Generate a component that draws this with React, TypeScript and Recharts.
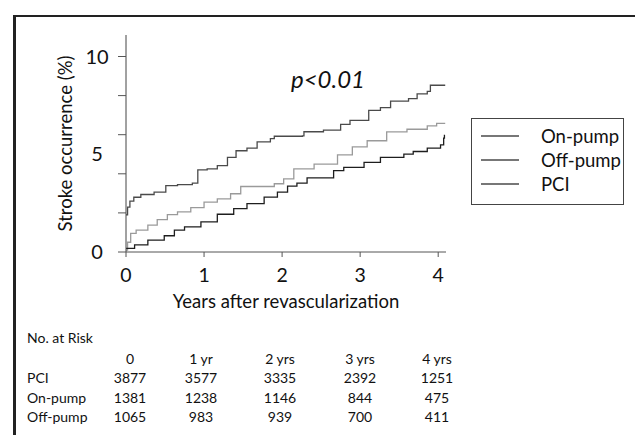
import React from 'react';
import { LineChart, Line, XAxis, YAxis, Legend } from 'recharts';

// Cumulative stroke occurrence (%)
const onPumpYears = [0, 0.02, 0.05, 0.1, 0.19, 0.36, 0.51, 0.66, 0.85, 0.92, 1.04, 1.17, 1.3, 1.41, 1.55, 1.68, 1.85, 1.9, 2.26, 2.28, 2.53, 2.75, 2.87, 3.11, 3.26, 3.39, 3.62, 3.73, 3.86, 3.9, 4.09];
const onPumpPct = [1.9, 2.3, 2.6, 2.8, 2.94, 3.06, 3.4, 3.45, 3.52, 4.2, 4.25, 4.42, 4.84, 5.18, 5.31, 5.63, 5.8, 5.92, 5.94, 6.15, 6.23, 6.53, 6.73, 7.24, 7.38, 7.72, 7.85, 8.09, 8.22, 8.53, 8.53];

const offPumpYears = [0, 0.02, 0.06, 0.13, 0.28, 0.4, 0.53, 0.66, 0.83, 1.0, 1.17, 1.34, 1.47, 1.9, 2.02, 2.15, 2.41, 2.71, 2.9, 3.09, 3.34, 3.6, 3.86, 3.98, 4.09];
const offPumpPct = [0.1, 0.5, 0.95, 1.12, 1.37, 1.66, 1.91, 2.05, 2.27, 2.55, 2.72, 2.98, 3.35, 3.49, 3.74, 4.25, 4.5, 4.97, 5.38, 5.69, 6.14, 6.28, 6.45, 6.58, 6.58];

const pciYears = [0, 0.11, 0.28, 0.49, 0.62, 0.75, 0.96, 1.17, 1.38, 1.55, 1.77, 1.94, 2.07, 2.19, 2.32, 2.66, 2.79, 3.05, 3.26, 3.56, 3.68, 3.86, 4.03, 4.07, 4.08];
const pciPct = [0.19, 0.36, 0.61, 0.83, 1.12, 1.29, 1.54, 1.93, 2.22, 2.47, 2.81, 3.06, 3.37, 3.52, 3.79, 4.16, 4.33, 4.58, 4.84, 5.01, 5.14, 5.31, 5.48, 5.82, 6.0];

const seriesNames = ['On-pump', 'Off-pump', 'PCI'];
const xTicks = [0, 1, 2, 3, 4];
const yTicks = [0, 2, 4, 5, 6, 8, 10];
const yLabelled = [0, 5, 10];

// number at risk table
const riskHeaders = ['0', '1 yr', '2 yrs', '3 yrs', '4 yrs'];
const riskGroups = ['PCI', 'On-pump', 'Off-pump'];
const riskPCI = [3877, 3577, 3335, 2392, 1251];
const riskOnPump = [1381, 1238, 1146, 844, 475];
const riskOffPump = [1065, 983, 939, 700, 411];

const toPoints = (years: number[], pct: number[]) => years.map((t, i) => ({ t, v: pct[i] }));

const FONT = 'Lato, "Open Sans", sans-serif';

const YTick = (props: any) => {
  const { x, y, payload } = props;
  const v = payload.value;
  return (
    <g>
      {v % 2 === 0 && <line x1={x + 6} x2={x + 14} y1={y} y2={y} stroke="#555" strokeWidth={1} />}
      {yLabelled.includes(v) && (
        <text x={97} y={y} dy={7} textAnchor="middle" fontSize={20} fill="#111" fontFamily={FONT}>
          {v}
        </text>
      )}
    </g>
  );
};

const LegendBox = (props: any) => {
  const items = [...(props.payload || [])].sort(
    (a: any, b: any) => seriesNames.indexOf(a.value) - seriesNames.indexOf(b.value)
  );
  return (
    <div
      style={{
        width: 153,
        height: 87,
        border: '1px solid #444',
        background: '#fff',
        boxSizing: 'border-box',
        paddingTop: 5,
        fontFamily: FONT,
      }}
    >
      {items.map((p: any) => (
        <div key={p.value} style={{ display: 'flex', alignItems: 'center', height: 24 }}>
          <div style={{ marginLeft: 9, width: 38, borderTop: '2px solid #777' }} />
          <span style={{ marginLeft: 22, fontSize: 18.5, color: '#111' }}>{p.value}</span>
        </div>
      ))}
    </div>
  );
};

const riskRows = [riskPCI, riskOnPump, riskOffPump];
const colCenters = [130, 201, 280, 360, 437];

export default function App() {
  return (
    <div style={{ position: 'absolute', left: 0, top: 0, width: 635, height: 435, background: '#fff', fontFamily: FONT }}>
      {/* outer frame */}
      <div style={{ position: 'absolute', left: 13, top: 15, width: 3, height: 420, background: '#222' }} />
      <div style={{ position: 'absolute', left: 13, top: 15, width: 622, height: 2, background: '#222' }} />

      <LineChart
        width={635}
        height={435}
        margin={{ top: 35, right: 189, bottom: 123, left: 0 }}
        style={{ position: 'absolute', left: 0, top: 0 }}
      >
        <XAxis
          type="number"
          dataKey="t"
          domain={[0, 4.1]}
          ticks={xTicks}
          allowDataOverflow
          tickSize={5}
          tickMargin={11}
          stroke="#555"
          tick={{ fontSize: 19.5, fill: '#111', fontFamily: FONT }}
          height={60}
          label={{ value: 'Years after revascularization', position: 'insideBottom', offset: 4, fontSize: 18.5, fill: '#111', fontFamily: FONT }}
        />
        <XAxis xAxisId="top" type="number" orientation="top" domain={[0, 4.1]} tick={false} tickLine={false} stroke="#888" height={0} />
        <YAxis
          type="number"
          domain={[0, 11.1]}
          ticks={yTicks}
          interval={0}
          allowDataOverflow
          tickLine={false}
          tickSize={8}
          tickMargin={6}
          tick={<YTick />}
          stroke="#444"
          width={126}
          label={{ value: 'Stroke occurrence (%)', angle: -90, position: 'insideLeft', offset: 65, fontSize: 18.5, fill: '#111', fontFamily: FONT, style: { textAnchor: 'middle' } }}
        />
        <YAxis yAxisId="right" orientation="right" domain={[0, 11.1]} tick={false} tickLine={false} stroke="#888" width={0} />
        <Legend
          content={<LegendBox />}
          layout="horizontal"
          verticalAlign="middle"
          align="center"
          wrapperStyle={{ position: 'absolute', left: 471, top: 118, width: 153, height: 87 }}
        />
        <Line data={toPoints(onPumpYears, onPumpPct)} dataKey="v" name="On-pump" type="stepAfter" stroke="#4a4a4a" strokeWidth={1.3} dot={false} isAnimationActive={false} />
        <Line data={toPoints(offPumpYears, offPumpPct)} dataKey="v" name="Off-pump" type="stepAfter" stroke="#9a9a9a" strokeWidth={1.3} dot={false} isAnimationActive={false} />
        <Line data={toPoints(pciYears, pciPct)} dataKey="v" name="PCI" type="stepAfter" stroke="#1e1e1e" strokeWidth={1.3} dot={false} isAnimationActive={false} />
      </LineChart>

      <div style={{ position: 'absolute', left: 328, top: 91, transform: 'translate(-50%, -100%)', fontSize: 24, fontStyle: 'italic', color: '#111', lineHeight: 1 }}>
        p&lt;0.01
      </div>

      {/* No. at Risk */}
      <div style={{ position: 'absolute', left: 27, top: 329, fontSize: 14, color: '#111' }}>No. at Risk</div>
      {riskHeaders.map((h, i) => (
        <div key={h} style={{ position: 'absolute', left: colCenters[i], top: 350, transform: 'translateX(-50%)', fontSize: 14, color: '#111', whiteSpace: 'nowrap' }}>
          {h}
        </div>
      ))}
      {riskGroups.map((g, r) => (
        <React.Fragment key={g}>
          <div style={{ position: 'absolute', left: 27, top: 369 + r * 19.5, fontSize: 14, color: '#111' }}>{g}</div>
          {riskRows[r].map((n, i) => (
            <div key={i} style={{ position: 'absolute', left: colCenters[i], top: 369 + r * 19.5, transform: 'translateX(-50%)', fontSize: 14, color: '#111' }}>
              {n}
            </div>
          ))}
        </React.Fragment>
      ))}
    </div>
  );
}
